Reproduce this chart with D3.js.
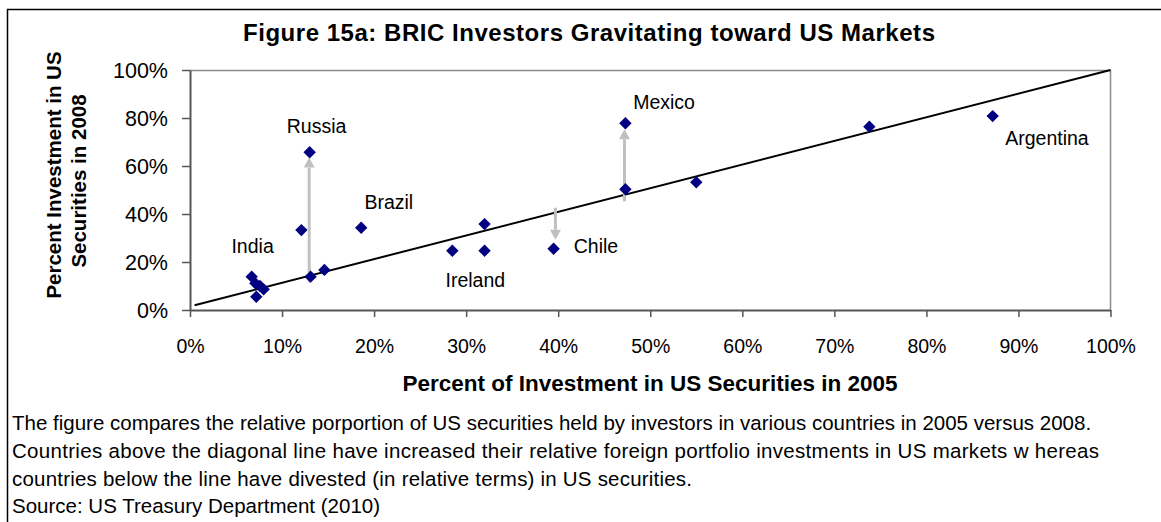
<!DOCTYPE html>
<html><head><meta charset="utf-8">
<script src="https://cdn.jsdelivr.net/npm/d3@7"></script>
<style>
body{margin:0;background:#fff}
svg{display:block}
text{font-family:"Liberation Sans",Arial,sans-serif;fill:#000}
</style>
</head><body>
<svg id="c" width="1161" height="522"></svg>
<script>
// ---- data ----
const share2005 = [0.130, 0.131, 0.146, 0.121, 0.186, 0.067, 0.071, 0.076, 0.080, 0.072, 0.285, 0.320, 0.320, 0.395, 0.473, 0.473, 0.550, 0.738, 0.872];
const share2008 = [0.657, 0.139, 0.167, 0.333, 0.343, 0.139, 0.111, 0.100, 0.086, 0.055, 0.247, 0.358, 0.247, 0.255, 0.778, 0.503, 0.532, 0.764, 0.808];
const labelNames = ["Russia", "Brazil", "India", "Ireland", "Chile", "Mexico", "Argentina"];
const labelX = [0.1375, 0.216, 0.068, 0.310, 0.441, 0.515, 0.931];
const labelY = [0.764, 0.451, 0.268, 0.125, 0.268, 0.868, 0.715];
const arrowX = [0.1295, 0.472, 0.397];
const arrowFrom = [0.114, 0.453, 0.426];
const arrowTo = [0.635, 0.753, 0.293];
const diagX = [0.005, 1.0];
const diagY = [0.02, 1.0];
const xTicks = [0, 0.1, 0.2, 0.3, 0.4, 0.5, 0.6, 0.7, 0.8, 0.9, 1.0];
const yTicks = [0, 0.2, 0.4, 0.6, 0.8, 1.0];
const titleText = "Figure 15a: BRIC Investors Gravitating toward US Markets";
const xTitle = "Percent of Investment in US Securities in 2005";
const yTitleLines = ["Percent Investment in US", "Securities in 2008"];
const captionLines = [
  "The figure compares the relative porportion of US securities held by investors in various countries in 2005 versus 2008.",
  "Countries above the diagonal line have increased their relative foreign portfolio investments in US markets w hereas",
  "countries below  the line have divested (in relative terms) in US securities.",
  "Source: US Treasury Department (2010)"
];

// ---- drawing ----
const svg = d3.select("#c");
const L = 190, R = 1110.5, T = 70, B = 310;
const x = d3.scaleLinear().domain([0, 1]).range([L, R]);
const y = d3.scaleLinear().domain([0, 1]).range([B, T]);

// outer border
svg.append("rect").attr("x", 7.5).attr("y", 9.5).attr("width", 1170).attr("height", 530)
  .attr("fill", "none").attr("stroke", "#000").attr("stroke-width", 1.5);

// title
svg.append("text").attr("x", 589).attr("y", 41).attr("text-anchor", "middle")
  .attr("font-size", 24).attr("font-weight", "bold")
  .attr("textLength", 692).attr("lengthAdjust", "spacing").text(titleText);

// plot frame (top, right)
svg.append("path").attr("d", `M${L},${T + 0.5}H${R}V${B}`).attr("fill", "none")
  .attr("stroke", "#8c8c8c").attr("stroke-width", 1.5);

// axes
const fmt = d3.format(".0%");
const gx = svg.append("g").attr("transform", `translate(0,${B})`)
  .call(d3.axisBottom(x).tickValues(xTicks).tickFormat(fmt).tickSize(7).tickSizeOuter(0));
const gy = svg.append("g").attr("transform", `translate(${L},0)`)
  .call(d3.axisLeft(y).tickValues(yTicks).tickFormat(fmt).tickSize(8).tickSizeOuter(0));
[gx, gy].forEach(g => {
  g.select(".domain").attr("stroke", "#555").attr("stroke-width", 2);
  g.selectAll(".tick line").attr("stroke", "#555").attr("stroke-width", 1.5);
  g.selectAll(".tick text").attr("font-family", "Liberation Sans, Arial, sans-serif").attr("fill", "#000");
});
gx.selectAll(".tick text").attr("font-size", 19.5).attr("dy", null).attr("y", 43);
gy.selectAll(".tick text").attr("font-size", 21.5).attr("x", -22).attr("dy", "0.36em");

// axis titles
svg.append("text").attr("x", 650).attr("y", 391).attr("text-anchor", "middle")
  .attr("font-size", 21.5).attr("font-weight", "bold")
  .attr("textLength", 495).attr("lengthAdjust", "spacingAndGlyphs").text(xTitle);
const yTitleX = [61, 86], yTitleC = [175, 181];
yTitleLines.forEach((t, i) => {
  svg.append("text").attr("transform", `translate(${yTitleX[i]},${yTitleC[i]}) rotate(-90)`)
    .attr("text-anchor", "middle").attr("font-size", 20.5).attr("font-weight", "bold").text(t);
});

// diagonal line
svg.append("line").attr("x1", x(diagX[0])).attr("y1", y(diagY[0]))
  .attr("x2", x(diagX[1])).attr("y2", y(diagY[1]))
  .attr("stroke", "#000").attr("stroke-width", 2);

// arrows
const ah = 10, aw = 5.5;
arrowX.forEach((ax, i) => {
  const px = x(ax), y0 = y(arrowFrom[i]), y1 = y(arrowTo[i]);
  const dir = y1 < y0 ? -1 : 1;
  svg.append("line").attr("x1", px).attr("y1", y0).attr("x2", px).attr("y2", y1 - dir * ah)
    .attr("stroke", "#c0c0c0").attr("stroke-width", 3);
  svg.append("path").attr("d", `M${px},${y1}L${px - aw},${y1 - dir * ah}L${px + aw},${y1 - dir * ah}Z`)
    .attr("fill", "#c0c0c0");
});

// points
const d = 6.2;
svg.append("g").selectAll("path").data(share2005.map((v, i) => [v, share2008[i]])).join("path")
  .attr("d", p => `M${x(p[0])},${y(p[1]) - d}L${x(p[0]) + d},${y(p[1])}L${x(p[0])},${y(p[1]) + d}L${x(p[0]) - d},${y(p[1])}Z`)
  .attr("fill", "#000080");

// labels
svg.append("g").selectAll("text").data(labelNames).join("text")
  .attr("x", (n, i) => x(labelX[i])).attr("y", (n, i) => y(labelY[i]))
  .attr("dy", "0.35em").attr("text-anchor", "middle").attr("font-size", 19.5).text(n => n);

// caption
const capWidths = [null, 1087, 680, null];
captionLines.forEach((t, i) => {
  const tx = svg.append("text").attr("x", 12).attr("y", 430 + i * 27.8).attr("font-size", 20.5).text(t);
  if (capWidths[i]) tx.attr("textLength", capWidths[i]).attr("lengthAdjust", "spacing");
});
</script>
</body></html>
